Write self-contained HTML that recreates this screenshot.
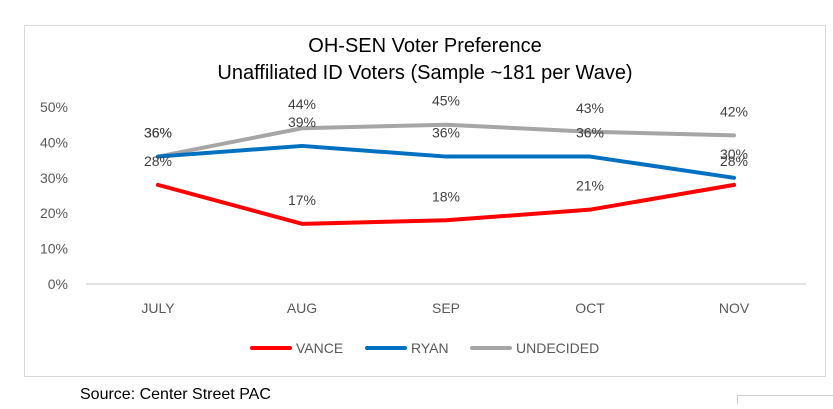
<!DOCTYPE html>
<html><head><meta charset="utf-8"><style>
body{margin:0;background:#fff;width:833px;height:404px;overflow:hidden;font-family:"Liberation Sans",Arial,sans-serif}
svg text{font-family:"Liberation Sans",Arial,sans-serif}
</style></head><body>
<svg id="c" width="833" height="404">
<rect x="24.5" y="25.5" width="801" height="351" fill="#fff" stroke="#d9d9d9"/>
<text x="425" y="52" font-size="20" text-anchor="middle" fill="#000">OH-SEN Voter Preference</text>
<text x="425" y="79" font-size="20" text-anchor="middle" fill="#000">Unaffiliated ID Voters (Sample ~181 per Wave)</text>
<g id="g"></g>
<text x="80" y="399" font-size="16" fill="#000">Source:  Center Street PAC</text>
<rect x="737.5" y="395.5" width="100" height="20" fill="#fff" stroke="#ccc"/>
</svg>
<script>
const categories=["JULY","AUG","SEP","OCT","NOV"];
const vance=[28,17,18,21,28];
const ryan=[36,39,36,36,30];
const undecided=[36,44,45,43,42];
const yTicks=[0,10,20,30,40,50];
const seriesNames=["VANCE","RYAN","UNDECIDED"];
const colors=["#ff0000","#0070c0","#a6a6a6"];
const NS="http://www.w3.org/2000/svg";
const g=document.getElementById('g');
const x=i=>158+i*144;
const y=v=>284-v*3.54;
function el(t,a){const e=document.createElementNS(NS,t);for(const k in a)e.setAttribute(k,a[k]);g.appendChild(e);return e;}
yTicks.forEach(t=>{const e=el('text',{x:68,y:y(t)+5,'font-size':14,fill:'#595959','text-anchor':'end'});e.textContent=t+'%';

});
const ax=el('line',{x1:86,x2:806,y1:y(0),y2:y(0),stroke:'#d9d9d9','stroke-width':1.5});


categories.forEach((c,i)=>{const e=el('text',{x:x(i),y:313,'font-size':14,fill:'#595959','text-anchor':'middle'});e.textContent=c;

});
const data=[vance,ryan,undecided];
[2,1,0].forEach(s=>{const d=data[s];
const p=el('polyline',{points:d.map((v,i)=>x(i)+','+y(v)).join(' '),fill:'none',stroke:colors[s],'stroke-width':4,'stroke-linejoin':'round','stroke-linecap':'round'});


d.forEach((v,i)=>{const t=el('text',{x:x(i),y:y(v)-19,'font-size':14,fill:'#404040','text-anchor':'middle'});t.textContent=v+'%';

});});
const lx=[252,367,472];
seriesNames.forEach((n,s)=>{const l=el('line',{x1:lx[s],x2:lx[s]+38,y1:348,y2:348,stroke:colors[s],'stroke-width':4,'stroke-linecap':'round'});


const t=el('text',{x:lx[s]+44,y:353,'font-size':14,fill:'#595959'});t.textContent=n;

});
</script>
</body></html>
